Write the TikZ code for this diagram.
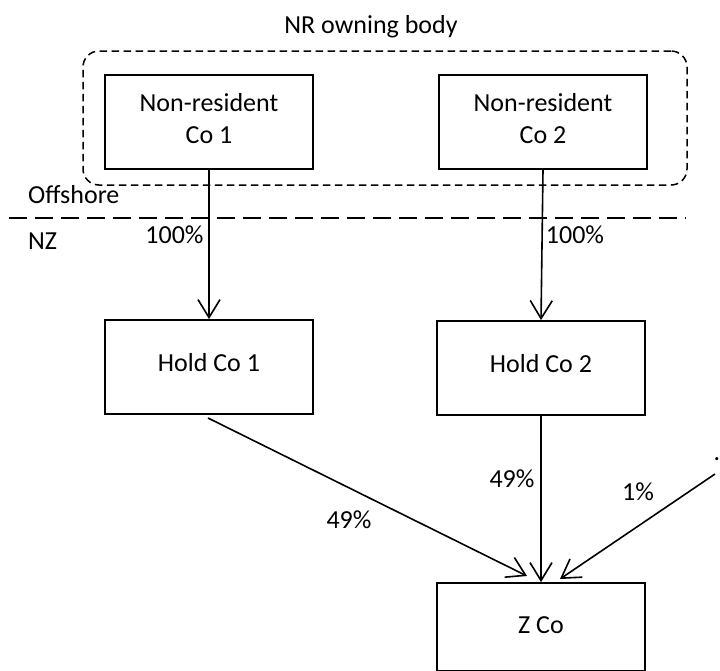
\documentclass[tikz,border=0pt]{standalone}
\usepackage{fontspec}
\setmainfont{Carlito}
\usetikzlibrary{arrows.meta}
\begin{document}
\begin{tikzpicture}[x=1pt,y=-1pt,
  txt/.style={font=\fontsize{26}{32}\selectfont, inner sep=0pt},
  box/.style={txt, draw, line width=1.8pt, minimum width=208pt, minimum height=94pt, align=center},
  lbl/.style={txt, anchor=base},
  arr/.style={line width=1.6pt, -{Straight Barb[length=18pt,width=22pt]}},
  dashline/.style={line width=1.6pt, dash pattern=on 18pt off 8pt},
]
\useasboundingbox (0,0) rectangle (720,670);
% owning body
\node[draw, line width=1.5pt, dash pattern=on 7.5pt off 4.5pt, rounded corners=16pt,
      minimum width=604pt, minimum height=134pt, inner sep=0pt] (body) at (385,118) {};
\node[lbl] (bodylbl) at (371,33) {NR owning body};
% boxes
\node[box, text depth=8pt] (nr1) at (209,122) {Non-resident\\Co 1};
\node[box, text depth=8pt] (nr2) at (543,122) {Non-resident\\Co 2};
\node[box, text depth=10pt] (hc1) at (209,367) {Hold Co 1};
\node[box, text depth=10pt] (hc2) at (541,368) {Hold Co 2};
\node[box, minimum height=88pt, text depth=4pt] (zco) at (541,627) {Z Co};
% border line
\coordinate (dl) at (9,218);
\coordinate (dr) at (686,218);
\draw[dashline] (dl) -- (dr);
\node[lbl, anchor=base west] (off) at (28,203) {Offshore};
\node[lbl, anchor=base west] (nz) at (28,249) {NZ};
% connectors
\coordinate (s1) at (208,418);
\coordinate (t1) at (527,576);
\coordinate (s3) at (715,474);
\coordinate (t3) at (560,579);
\draw[arr] (nr1.south) -- (hc1.north);
\draw[arr] (nr2.south) -- (hc2.north);
\draw[arr] (s1) -- (t1);
\draw[arr] (hc2.south) -- (zco.north);
\draw[arr] (s3) -- (t3);
% labels
\node[lbl] (p1) at (174.5,243) {100\%};
\node[lbl] (p2) at (575,243) {100\%};
\node[lbl] (p3) at (349,528) {49\%};
\node[lbl] (p4) at (512,487) {49\%};
\node[lbl] (p5) at (638,500) {1\%};
\node[lbl] (dot) at (717,460) {.};
\end{tikzpicture}
\end{document}
